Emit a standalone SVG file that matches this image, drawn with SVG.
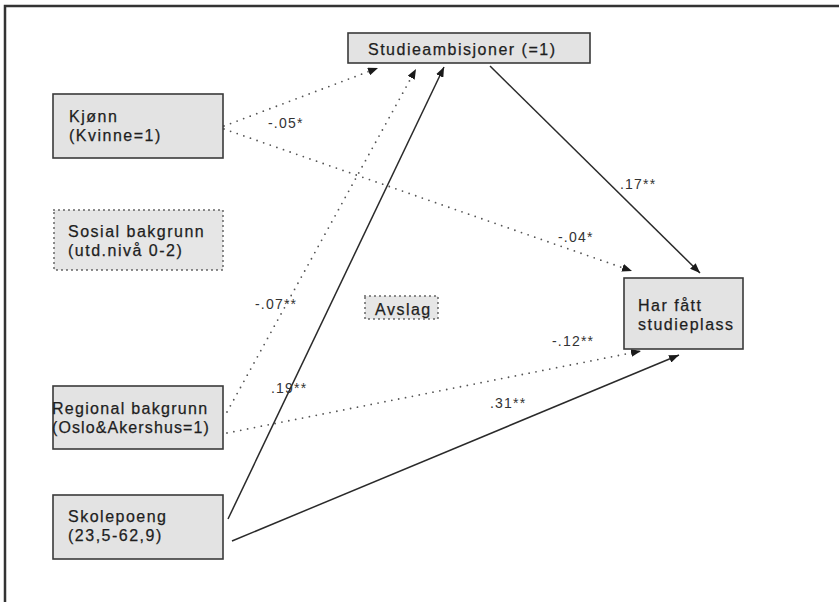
<svg xmlns="http://www.w3.org/2000/svg" width="839" height="602" viewBox="0 0 839 602">
<style>
.box{fill:#e3e3e3;stroke:#3a3a3a;stroke-width:1.6}
.dbox{fill:#e6e6e6;stroke:#555;stroke-width:1.8;stroke-dasharray:0 5;stroke-linecap:round}
.t{font-family:"Liberation Sans",Arial,sans-serif;font-size:16px;fill:#1e1e1e;stroke:#1e1e1e;stroke-width:0.25;letter-spacing:1.5px}
.lab{font-family:"Liberation Sans",Arial,sans-serif;font-size:14px;fill:#333;letter-spacing:1.2px}
.solid{fill:none;stroke:#2a2a2a;stroke-width:1.5}
.dot{fill:none;stroke:#555;stroke-width:1.8;stroke-dasharray:0 7;stroke-linecap:round}
</style>
<defs>
<marker id="ah" viewBox="0 0 10 8" refX="10" refY="4" markerWidth="10" markerHeight="8" markerUnits="userSpaceOnUse" orient="auto">
<path d="M0,0 L10,4 L0,8 Z" fill="#1a1a1a"/>
</marker>
</defs>
<rect width="839" height="602" fill="#fff"/>
<g id="frame" fill="none" stroke="#333" stroke-width="2.5">
<path d="M5,602 V6 H839"/>
</g>
<g id="connectors">
<path class="dot" d="M224,126 L378,68" marker-end="url(#ah)"/>
<path class="dot" d="M224,129 L632,271" marker-end="url(#ah)"/>
<path class="dot" d="M227,412 L416,69" marker-end="url(#ah)"/>
<path class="dot" d="M227,433 L641,351" marker-end="url(#ah)"/>
<path class="solid" d="M228,519 L444,67" marker-end="url(#ah)"/>
<path class="solid" d="M232,541 L679,355" marker-end="url(#ah)"/>
<path class="solid" d="M490,66 L700,273" marker-end="url(#ah)"/>
<text class="lab" x="268" y="128">-.05*</text>
<text class="lab" x="620" y="189">.17**</text>
<text class="lab" x="558" y="242">-.04*</text>
<text class="lab" x="255" y="309">-.07**</text>
<text class="lab" x="271" y="393">.19**</text>
<text class="lab" x="552" y="346">-.12**</text>
<text class="lab" x="490" y="408">.31**</text>
</g>
<g id="studieambisjoner">
<rect class="box" x="348" y="33" width="242" height="30"/>
<text class="t" x="368" y="55">Studieambisjoner (=1)</text>
</g>
<g id="kjonn">
<rect class="box" x="53" y="94" width="170" height="64"/>
<text class="t" x="69" y="122">Kjønn</text>
<text class="t" x="69" y="141">(Kvinne=1)</text>
</g>
<g id="sosial">
<rect class="dbox" x="54" y="210" width="169" height="60"/>
<text class="t" x="68" y="237">Sosial bakgrunn</text>
<text class="t" x="68" y="256">(utd.nivå 0-2)</text>
</g>
<g id="avslag">
<rect class="dbox" x="365" y="296" width="73" height="23"/>
<text class="t" x="375" y="315">Avslag</text>
</g>
<g id="harfatt">
<rect class="box" x="624" y="278" width="119" height="71"/>
<text class="t" x="638" y="311">Har fått</text>
<text class="t" x="638" y="330">studieplass</text>
</g>
<g id="regional">
<rect class="box" x="53" y="386" width="170" height="63"/>
<text class="t" x="52" y="414" style="letter-spacing:1.3px">Regional bakgrunn</text>
<text class="t" x="52" y="433" style="letter-spacing:1.1px">(Oslo&amp;Akershus=1)</text>
</g>
<g id="skolepoeng">
<rect class="box" x="53" y="495" width="170" height="64"/>
<text class="t" x="68" y="522">Skolepoeng</text>
<text class="t" x="68" y="541">(23,5-62,9)</text>
</g>
</svg>
